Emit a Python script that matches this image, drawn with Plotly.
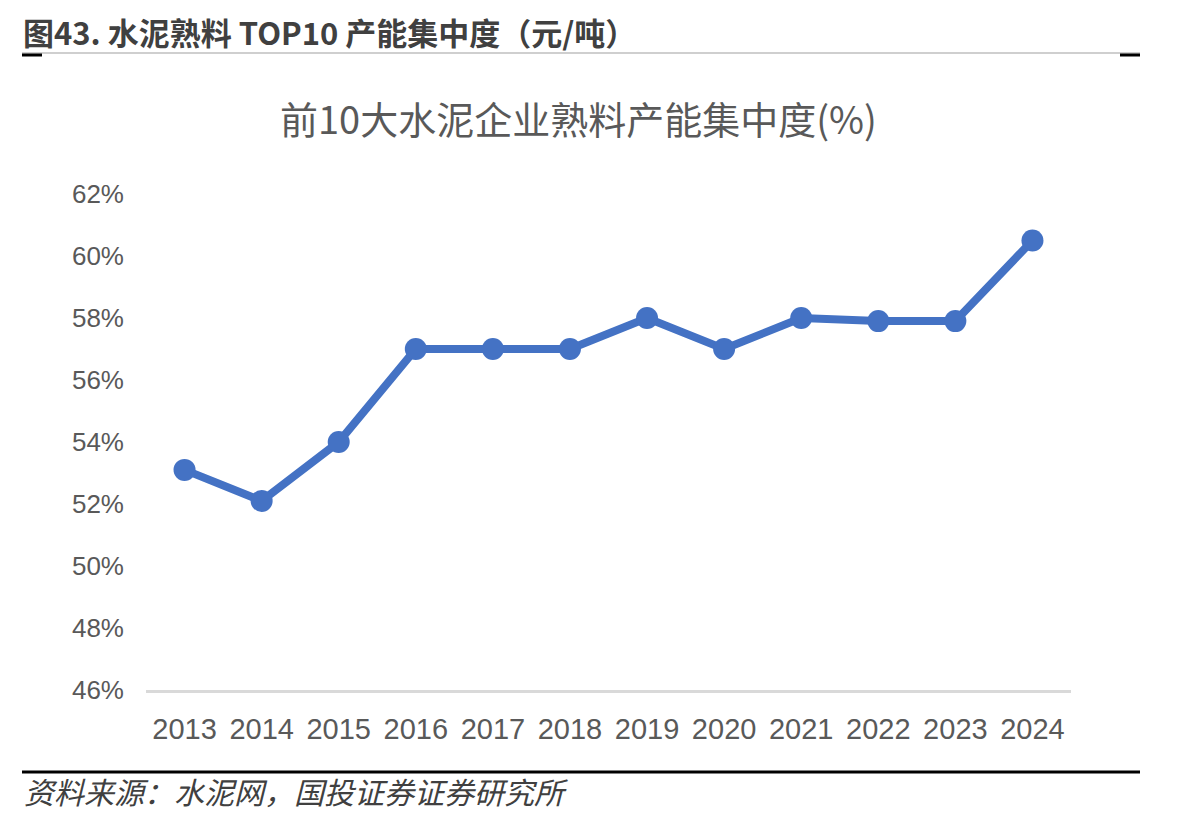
import plotly.graph_objects as go

# data
years = ["2013", "2014", "2015", "2016", "2017", "2018",
         "2019", "2020", "2021", "2022", "2023", "2024"]
top10_share = [53.1, 52.1, 54.0, 57.0, 57.0, 57.0,
               58.0, 57.0, 58.0, 57.9, 57.9, 60.5]
y_ticks = [46, 48, 50, 52, 54, 56, 58, 60, 62]
y_tick_labels = [f"{v}%" for v in y_ticks]

# the page adds an 8px body margin, so the figure is drawn 16px smaller
OFF = 8
W, H = 1188 - 2 * OFF, 822 - 2 * OFF
L, T, PW, PH = 138, 186, 925, 496
cjk = "Noto Sans CJK SC"
latin = "Liberation Sans, Arial, sans-serif"


def px_x(v):
    # reference page pixel -> paper x
    return (v - OFF - L) / PW


def px_y(v):
    # reference page pixel -> paper y
    return (T + PH - (v - OFF)) / PH


fig = go.Figure()

fig.add_trace(go.Scatter(
    x=years,
    y=top10_share,
    mode="lines+markers",
    line=dict(color="#4472C4", width=8),
    marker=dict(color="#4472C4", size=22),
    showlegend=False,
    hovertemplate="%{x}: %{y:.1f}%<extra></extra>",
))

fig.update_layout(
    width=W, height=H,
    paper_bgcolor="white",
    plot_bgcolor="white",
    margin=dict(l=L, r=W - L - PW, t=T, b=H - T - PH, autoexpand=False),
    xaxis=dict(
        type="category",
        range=[-0.5, len(years) - 0.5],
        showgrid=False,
        showline=True,
        linecolor="#D9D9D9",
        linewidth=3,
        ticks="",
        ticklabelstandoff=11,
        tickfont=dict(family=latin, size=29, color="#595959"),
        fixedrange=True,
    ),
    yaxis=dict(
        range=[46, 62],
        tickvals=y_ticks,
        ticktext=y_tick_labels,
        showgrid=False,
        zeroline=False,
        showline=False,
        ticks="",
        ticklabelstandoff=21,
        tickfont=dict(family=latin, size=26, color="#595959"),
        fixedrange=True,
    ),
)

# header title (anchored by its top so it stays inside the figure)
fig.add_annotation(
    text="图43. 水泥熟料 TOP10 产能集中度（元/吨）",
    xref="paper", yref="paper",
    x=px_x(22), y=px_y(8),
    xanchor="left", yanchor="top",
    borderpad=0,
    showarrow=False,
    font=dict(family=cjk, size=31, color="#404040", weight="bold"),
)

# chart subtitle
fig.add_annotation(
    text="前10大水泥企业熟料产能集中度(%)",
    xref="paper", yref="paper",
    x=px_x(578), y=px_y(118),
    xanchor="center", yanchor="middle",
    showarrow=False,
    font=dict(family=cjk, size=38, color="#595959"),
)

# source note
fig.add_annotation(
    text="资料来源：水泥网，国投证券证券研究所",
    xref="paper", yref="paper",
    x=px_x(22), y=px_y(791),
    xanchor="left", yanchor="middle",
    showarrow=False,
    font=dict(family=cjk, size=30, color="#404040", style="italic"),
)

# header rule with dark end marks, and footer rule
fig.add_shape(type="line", xref="paper", yref="paper",
              x0=px_x(22), x1=px_x(1140), y0=px_y(53), y1=px_y(53),
              line=dict(color="#BFBFBF", width=1.5))
fig.add_shape(type="line", xref="paper", yref="paper",
              x0=px_x(22), x1=px_x(42), y0=px_y(55), y1=px_y(55),
              line=dict(color="#000000", width=3))
fig.add_shape(type="line", xref="paper", yref="paper",
              x0=px_x(1120), x1=px_x(1140), y0=px_y(55), y1=px_y(55),
              line=dict(color="#000000", width=3))
fig.add_shape(type="line", xref="paper", yref="paper",
              x0=px_x(22), x1=px_x(1140), y0=px_y(772), y1=px_y(772),
              line=dict(color="#000000", width=3))

fig.write_html("out.html")
